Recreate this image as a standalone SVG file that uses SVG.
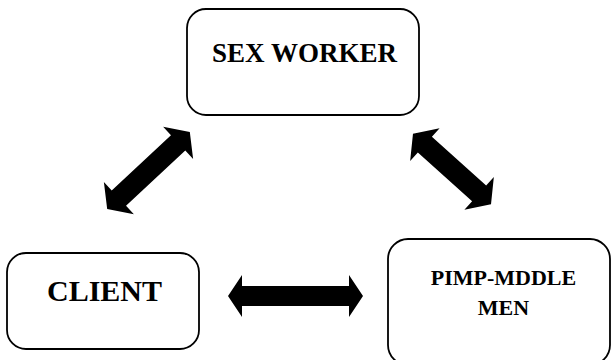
<svg xmlns="http://www.w3.org/2000/svg" width="611" height="360" viewBox="0 0 611 360">
  <style>
    .box { fill: #ffffff; stroke: #000000; stroke-width: 1.8; }
    .lbl { font-family: "Liberation Serif", "Times New Roman", serif; font-weight: bold; fill: #000000; text-anchor: middle; }
    .arr { fill: #000000; stroke: none; }
  </style>
  <rect x="0" y="0" width="611" height="360" fill="#ffffff"/>
  <g id="connectors">
    <polygon class="arr" transform="translate(148.5,170.5) rotate(-43)" points="-56.5,0 -40.5,-22 -40.5,-10.5 40.5,-10.5 40.5,-22 56.5,0 40.5,22 40.5,10.5 -40.5,10.5 -40.5,22"/>
    <polygon class="arr" transform="translate(452,169) rotate(42)" points="-52.5,0 -36.5,-22 -36.5,-10.5 36.5,-10.5 36.5,-22 52.5,0 36.5,22 36.5,10.5 -36.5,10.5 -36.5,22"/>
    <polygon class="arr" transform="translate(295.5,296)" points="-67.5,0 -53.5,-21 -53.5,-10 53.5,-10 53.5,-21 67.5,0 53.5,21 53.5,10 -53.5,10 -53.5,21"/>
  </g>
  <g id="sex-worker">
    <rect class="box" x="187" y="9" width="232" height="106" rx="19" ry="19"/>
    <text class="lbl" x="304.5" y="62" font-size="27">SEX WORKER</text>
  </g>
  <g id="client">
    <rect class="box" x="7" y="253" width="192" height="96" rx="19" ry="19"/>
    <text class="lbl" x="104.5" y="301" font-size="30">CLIENT</text>
  </g>
  <g id="pimp-middle-men">
    <rect class="box" x="388" y="239" width="222" height="126" rx="20" ry="20"/>
    <text class="lbl" x="503.5" y="285" font-size="22">PIMP-MDDLE</text>
    <text class="lbl" x="503.5" y="315" font-size="22">MEN</text>
  </g>
</svg>
